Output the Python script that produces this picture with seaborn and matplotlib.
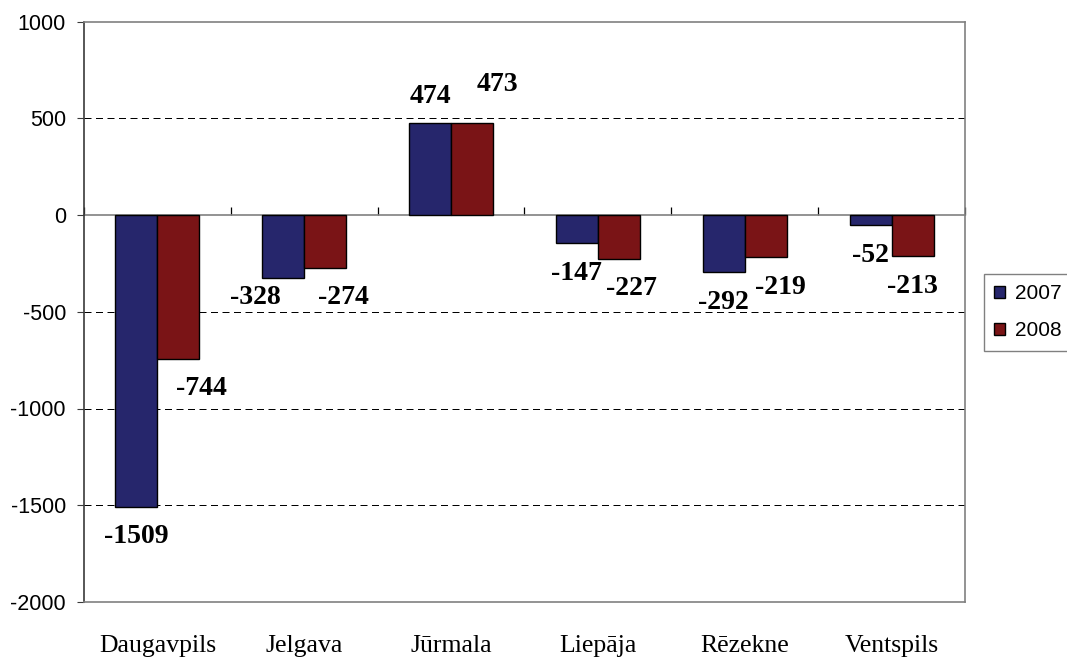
import pandas as pd
import matplotlib
matplotlib.use("Agg")
import matplotlib.pyplot as plt
import seaborn as sns

cities = ["Daugavpils", "Jelgava", "Jūrmala", "Liepāja", "Rēzekne", "Ventspils"]
years = ["2007", "2008"]
vals_2007 = [-1509, -328, 474, -147, -292, -52]
vals_2008 = [-744, -274, 473, -227, -219, -213]
y_ticks = [-2000, -1500, -1000, -500, 0, 500, 1000]

# hand placed value labels in the original, offsets in pixels (dx, dy)
nudge_2007 = [(0, -30), (-28, -19), (0, 27), (0, -30), (0, -31), (0, -30)]
nudge_2008 = [(23, -30), (18, -29), (25, 39), (13, -30), (15, -30), (0, -30)]

colors = {"2007": "#26266C", "2008": "#7A1416"}

df = pd.DataFrame({
    "city": cities * 2,
    "year": [years[0]] * len(cities) + [years[1]] * len(cities),
    "value": vals_2007 + vals_2008,
})

sns.set_theme(style="white")
plt.rcParams["font.family"] = ["Liberation Sans", "DejaVu Sans"]
plt.rcParams["axes.unicode_minus"] = False
for k in ["text.color", "xtick.color", "ytick.color", "axes.labelcolor"]:
    plt.rcParams[k] = "black"

fig = plt.figure(figsize=(10.67, 6.59), dpi=100)
ax = fig.add_axes([84 / 1067, 57 / 659, 881 / 1067, 580.5 / 659])

sns.barplot(data=df, x="city", y="value", hue="year", hue_order=years,
            palette=colors, width=0.572, gap=0, saturation=1,
            edgecolor="black", linewidth=1.0, errorbar=None, ax=ax)

ax.set_ylim(-2000, 1000)
ax.set_yticks(y_ticks)
ax.set_xlabel("")
ax.set_ylabel("")

# dashed grid, not on the border or zero line
for t in y_ticks[1:-1]:
    if t != 0:
        ax.axhline(t, color="black", lw=0.72, ls=(0, (7, 4.5)), zorder=0)

for name, sp in ax.spines.items():
    sp.set_visible(True)
    sp.set_color("#808080")
    sp.set_linewidth(1.2)
ax.spines["left"].set_color("#3a3a3a")

ax.tick_params(axis="y", which="both", left=True, direction="out", length=5,
               width=0.8, color="#3a3a3a", pad=8, labelsize=15.5,
               labelcolor="black")
ax.tick_params(axis="x", length=0, pad=24, labelcolor="black")
for lab in ax.get_xticklabels():
    lab.set_fontfamily("Liberation Serif")
    lab.set_fontsize(18.5)

# category axis crossing at zero, ticks between groups
sec = ax.secondary_xaxis(0, transform=ax.transData)
sec.set_xticks([k - 0.5 for k in range(len(cities) + 1)])
sec.tick_params(direction="in", length=6, width=0.9, color="black",
                labelbottom=False)
sec.spines["bottom"].set_color("#808080")
sec.spines["bottom"].set_linewidth(1.2)

nudges = [nudge_2007, nudge_2008]
for cont, nud in zip(ax.containers, nudges):
    for bar, (dx, dy) in zip(cont, nud):
        v = bar.get_height()
        ax.annotate("%d" % round(v), (bar.get_x() + bar.get_width() / 2, v),
                    xytext=(dx, dy), textcoords="offset pixels",
                    ha="center", va="center", fontsize=20, color="black",
                    fontweight="bold", fontfamily="Liberation Serif")

handles, labels = ax.get_legend_handles_labels()
if ax.get_legend() is not None:
    ax.get_legend().remove()
leg = fig.legend(handles, labels, loc="upper left",
                 bbox_to_anchor=(984 / 1067, 1 - 274 / 659),
                 bbox_transform=fig.transFigure, borderaxespad=0,
                 fontsize=15, frameon=True, fancybox=False, framealpha=1,
                 edgecolor="#808080", handlelength=0.5, handleheight=0.5,
                 handletextpad=0.5, borderpad=0.5, labelspacing=0.85)
for t in leg.get_texts():
    t.set_color("black")

fig.savefig("out.png", dpi=100)
